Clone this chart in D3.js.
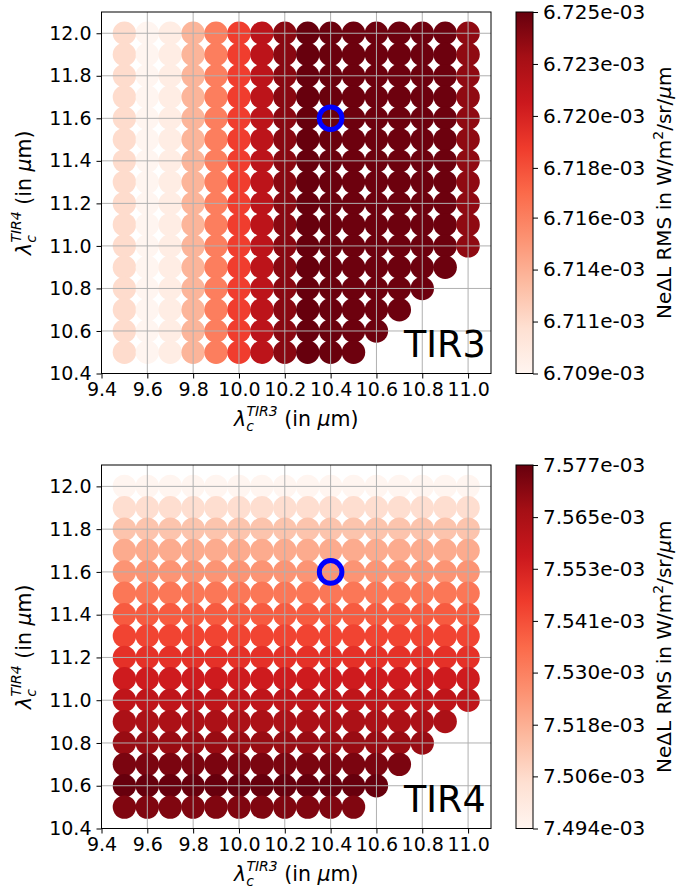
<!DOCTYPE html>
<html><head><meta charset="utf-8">
<script src="https://cdn.jsdelivr.net/npm/d3@7"></script>
<style>
body{margin:0;background:#fff}
text{font-family:"DejaVu Sans",sans-serif}
</style>
</head><body><svg id="c" width="677" height="894"></svg>
<script>
// ---------- data ----------
const xValues = [9.5,9.6,9.7,9.8,9.9,10.0,10.1,10.2,10.3,10.4,10.5,10.6,10.7,10.8,10.9,11.0];
const yValues = [10.5,10.6,10.7,10.8,10.9,11.0,11.1,11.2,11.3,11.4,11.5,11.6,11.7,11.8,11.9,12.0];
// last TIR3 centre wavelength present in each TIR4 row (same order as yValues)
const rowLastX = [10.5,10.6,10.7,10.8,10.9,11.0,11.0,11.0,11.0,11.0,11.0,11.0,11.0,11.0,11.0,11.0];
// TIR3 NeΔL RMS per TIR3 column (same order as xValues)
const tir3ByColumn = [6.7112e-3,6.7090e-3,6.7098e-3,6.7133e-3,6.7160e-3,6.7189e-3,6.7218e-3,6.7239e-3,
                      6.7250e-3,6.7249e-3,6.7248e-3,6.7248e-3,6.7248e-3,6.7248e-3,6.7248e-3,6.7237e-3];
// TIR4 NeΔL RMS per TIR4 row (same order as yValues)
const tir4ByRow = [7.5729e-3,7.5770e-3,7.5737e-3,7.5687e-3,7.5646e-3,7.5596e-3,7.5554e-3,7.5488e-3,
                   7.5438e-3,7.5388e-3,7.5322e-3,7.5247e-3,7.5189e-3,7.5123e-3,7.5048e-3,7.4940e-3];
const xTicks = [9.4,9.6,9.8,10.0,10.2,10.4,10.6,10.8,11.0];
const yTicks = [10.4,10.6,10.8,11.0,11.2,11.4,11.6,11.8,12.0];
const tir3Ticks = [6.709e-3,6.7113e-3,6.7136e-3,6.7159e-3,6.7181e-3,6.7204e-3,6.7227e-3,6.725e-3];
const tir4Ticks = [7.494e-3,7.5059e-3,7.5177e-3,7.5296e-3,7.5414e-3,7.5533e-3,7.5651e-3,7.577e-3];
const redsStops = ["#fff5f0","#fee0d2","#fcbba1","#fc9272","#fb6a4a","#ef3b2c","#cb181d","#a50f15","#67000d"];
const marked = {x:10.4, y:11.6};
const panelNames = ["TIR3","TIR4"];

// ---------- layout ----------
const svg = d3.select("#c");
const L = 101.5, R = 491, CBX = 516, CBW = 17;
const panels = [
  {top:12, bottom:373.5, name:panelNames[0], ticks:tir3Ticks, value:(xi,yi)=>tir3ByColumn[xi]},
  {top:465, bottom:828.5, name:panelNames[1], ticks:tir4Ticks, value:(xi,yi)=>tir4ByRow[yi]}
];
const FS = 19, LFS = 20.5, CFS = 20;
function sci(v){
  const s = v.toExponential(3); const [m,e] = s.split("e");
  return m + "e" + e[0] + e.slice(1).padStart(2,"0");
}
function lambdaLabel(sel, sup){
  sel.append("tspan").attr("font-style","italic").text("λ");
  sel.append("tspan").attr("font-style","italic").attr("font-size",14).attr("dy",5).text("c");
  sel.append("tspan").attr("font-style","italic").attr("font-size",14).attr("dx",-7.5).attr("dy",-15).text(sup);
  sel.append("tspan").attr("dy",10).text(" (in ");
  sel.append("tspan").attr("font-style","italic").text("μ");
  sel.append("tspan").text("m)");
}

panels.forEach((p,pi)=>{
  const g = svg.append("g");
  const x = d3.scaleLinear().domain([9.4,11.1]).range([L,R]);
  const y = d3.scaleLinear().domain([10.4,12.1]).range([p.bottom,p.top]);
  const vmin = p.ticks[0], vmax = p.ticks[p.ticks.length-1];
  const color = d3.scaleLinear()
    .domain(redsStops.map((_,i)=>vmin+(vmax-vmin)*i/(redsStops.length-1)))
    .range(redsStops).interpolate(d3.interpolateRgb).clamp(true);

  const pts = [];
  xValues.forEach((xv,xi)=>{
    for(let yi=yValues.length-1; yi>=0; yi--){
      if(xv <= rowLastX[yi] + 1e-9) pts.push({x:xv, y:yValues[yi], v:p.value(xi,yi)});
    }
  });
  g.append("g").selectAll("circle").data(pts).join("circle")
    .attr("cx",d=>x(d.x)).attr("cy",d=>y(d.y)).attr("r",11.7)
    .attr("fill",d=>color(d.v));

  // grid
  const grid = g.append("g").attr("stroke","#b0b0b0").attr("stroke-width",1);
  grid.selectAll("line.v").data(xTicks).join("line").attr("class","v")
    .attr("x1",d=>x(d)).attr("x2",d=>x(d)).attr("y1",p.top).attr("y2",p.bottom);
  grid.selectAll("line.h").data(yTicks).join("line").attr("class","h")
    .attr("y1",d=>y(d)).attr("y2",d=>y(d)).attr("x1",L).attr("x2",R);

  // marked design point
  g.append("circle").attr("cx",x(marked.x)).attr("cy",y(marked.y)).attr("r",11.3)
    .attr("fill","none").attr("stroke","#0000ff").attr("stroke-width",5);

  // panel name
  g.append("text").attr("x",404).attr("y",p.bottom-16.5).attr("font-size",36.5)
    .attr("fill","#000").text(p.name);

  // axes
  const ax = g.append("g").attr("transform",`translate(0,${p.bottom})`)
    .call(d3.axisBottom(x).tickValues(xTicks).tickFormat(d3.format(".1f")).tickSize(5).tickPadding(4));
  const ay = g.append("g").attr("transform",`translate(${L},0)`)
    .call(d3.axisLeft(y).tickValues(yTicks).tickFormat(d3.format(".1f")).tickSize(5).tickPadding(5));
  [ax,ay].forEach(a=>{
    a.select(".domain").remove();
    a.selectAll("text").attr("font-size",FS).attr("fill","#000").attr("font-family","DejaVu Sans");
    a.selectAll("line").attr("stroke","#000");
  });
  g.append("rect").attr("x",L).attr("y",p.top).attr("width",R-L).attr("height",p.bottom-p.top)
    .attr("fill","none").attr("stroke","#000").attr("stroke-width",1);

  // axis labels
  const xl = g.append("text").attr("x",(L+R)/2).attr("y",p.bottom+52).attr("text-anchor","middle")
    .attr("font-size",LFS).attr("fill","#000");
  lambdaLabel(xl,"TIR3");
  const yl = g.append("text").attr("transform",`translate(31,${(p.top+p.bottom)/2}) rotate(-90)`)
    .attr("text-anchor","middle").attr("font-size",LFS).attr("fill","#000");
  lambdaLabel(yl,"TIR4");

  // colorbar
  const gid = "grad"+pi;
  const grad = svg.append("defs").append("linearGradient").attr("id",gid)
    .attr("x1",0).attr("y1",1).attr("x2",0).attr("y2",0);
  redsStops.forEach((c,i)=>grad.append("stop").attr("offset",i/(redsStops.length-1)).attr("stop-color",c));
  g.append("rect").attr("x",CBX).attr("y",p.top).attr("width",CBW).attr("height",p.bottom-p.top)
    .attr("fill",`url(#${gid})`).attr("stroke","#000").attr("stroke-width",1);
  const cs = d3.scaleLinear().domain([vmin,vmax]).range([p.bottom,p.top]);
  const ac = g.append("g").attr("transform",`translate(${CBX+CBW},0)`)
    .call(d3.axisRight(cs).tickValues(p.ticks).tickFormat(sci).tickSize(5).tickPadding(5));
  ac.select(".domain").remove();
  ac.selectAll("text").attr("font-size",CFS).attr("fill","#000").attr("font-family","DejaVu Sans");
  ac.selectAll("line").attr("stroke","#000");

  const cl = g.append("text").attr("transform",`translate(671,${(p.top+p.bottom)/2}) rotate(-90)`)
    .attr("text-anchor","middle").attr("font-size",20).attr("fill","#000");
  cl.append("tspan").text("NeΔL RMS in W/m");
  cl.append("tspan").attr("font-size",14).attr("dy",-8).text("2");
  cl.append("tspan").attr("dy",8).text("/sr/");
  cl.append("tspan").attr("font-style","italic").text("μ");
  cl.append("tspan").text("m");
});
</script>
</body></html>
